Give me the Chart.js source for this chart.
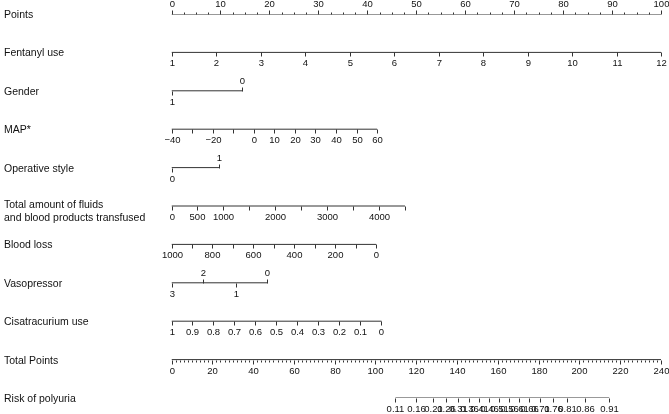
<!DOCTYPE html>
<html lang="en">
<head>
  <meta charset="UTF-8">
  <title>Nomogram - Risk of polyuria</title>
  <style>
    body { margin: 0; background: #fff; }
    #nomo { display: block; }
  </style>
</head>
<body>
  <canvas id="nomo" width="669" height="414"></canvas>
  <script src="https://cdn.jsdelivr.net/npm/chart.js"></script>
  <script>
    // Row titles (top to bottom)
    const rowTitles = ['Points', 'Fentanyl use', 'Gender', 'MAP*', 'Operative style',
      ['Total amount of fluids', 'and blood products transfused'],
      'Blood loss', 'Vasopressor', 'Cisatracurium use', 'Total Points', 'Risk of polyuria'];

    // Points scale
    const pointsTicks = [0, 10, 20, 30, 40, 50, 60, 70, 80, 90, 100];
    const pointsMinorStep = 2.5;

    // Fentanyl use: 1 -> 0 pts, 12 -> 100 pts
    const fentanylTicks = [1, 2, 3, 4, 5, 6, 7, 8, 9, 10, 11, 12];
    const fentanylScore = [0, 100];

    // Gender (categorical)
    const genderLevels = ['1', '0'];
    const genderScore = [0, 14.5];
    const genderSide = [1, -1];

    // MAP*
    const mapTicks = [-40, -30, -20, -10, 0, 10, 20, 30, 40, 50, 60];
    const mapLabels = ['\u221240', '', '\u221220', '', '0', '10', '20', '30', '40', '50', '60'];
    const mapScore = [0, 42];

    // Operative style (categorical)
    const opLevels = ['0', '1'];
    const opScore = [0, 9.7];
    const opSide = [1, -1];

    // Total amount of fluids and blood products transfused
    const fluidTicks = [0, 500, 1000, 1500, 2000, 2500, 3000, 3500, 4000, 4500];
    const fluidLabels = ['0', '500', '1000', '', '2000', '', '3000', '', '4000', ''];
    const fluidScore = [0, 47.7];

    // Blood loss
    const bloodTicks = [1000, 900, 800, 700, 600, 500, 400, 300, 200, 100, 0];
    const bloodLabels = ['1000', '', '800', '', '600', '', '400', '', '200', '', '0'];
    const bloodScore = [0, 41.8];

    // Vasopressor (categorical)
    const vasoLevels = ['3', '2', '1', '0'];
    const vasoScore = [0, 6.5, 13.2, 19.6];
    const vasoSide = [1, -1, 1, -1];

    // Cisatracurium use
    const cisaTicks = [1, 0.9, 0.8, 0.7, 0.6, 0.5, 0.4, 0.3, 0.2, 0.1, 0];
    const cisaLabels = ['1', '0.9', '0.8', '0.7', '0.6', '0.5', '0.4', '0.3', '0.2', '0.1', '0'];
    const cisaScore = [0, 42.9];

    // Total points scale
    const totalTicks = [0, 20, 40, 60, 80, 100, 120, 140, 160, 180, 200, 220, 240];
    const totalMinorStep = 2;

    // Risk of polyuria (logistic on total points)
    const riskTicks = [0.11, 0.16, 0.21, 0.26, 0.31, 0.36, 0.41, 0.46, 0.51, 0.56, 0.61, 0.66, 0.71, 0.76, 0.81, 0.86, 0.91];
    const riskIntercept = -6.705;
    const riskSlope = 0.04202;

    // helpers
    function lin(v, first, last, score) {
      return score[0] + (v - first) / (last - first) * (score[1] - score[0]);
    }
    function linearRow(ticks, labels, score, side) {
      const first = ticks[0], last = ticks[ticks.length - 1];
      return ticks.map((v, i) => ({ p: lin(v, first, last, score), label: labels[i], side: side, len: 4 }));
    }
    function catRow(levels, score, sides) {
      return levels.map((l, i) => ({ p: score[i], label: l, side: sides[i], len: 4 }));
    }
    function scaleRow(major, step, side) {
      const out = [];
      const max = major[major.length - 1];
      for (let v = 0; v <= max + 1e-9; v += step) {
        const isMajor = major.some(m => Math.abs(m - v) < 1e-9);
        if (!isMajor) out.push({ p: v, label: '', side: side, len: 2 });
      }
      major.forEach(m => out.push({ p: m, label: String(m), side: side, len: 4 }));
      return out;
    }

    const rows = [
      { axis: 'x', ticks: scaleRow(pointsTicks, pointsMinorStep, -1) },
      { axis: 'x', ticks: linearRow(fentanylTicks, fentanylTicks.map(String), fentanylScore, 1) },
      { axis: 'x', ticks: catRow(genderLevels, genderScore, genderSide) },
      { axis: 'x', ticks: linearRow(mapTicks, mapLabels, mapScore, 1) },
      { axis: 'x', ticks: catRow(opLevels, opScore, opSide) },
      { axis: 'x', ticks: linearRow(fluidTicks, fluidLabels, fluidScore, 1) },
      { axis: 'x', ticks: linearRow(bloodTicks, bloodLabels, bloodScore, 1) },
      { axis: 'x', ticks: catRow(vasoLevels, vasoScore, vasoSide) },
      { axis: 'x', ticks: linearRow(cisaTicks, cisaLabels, cisaScore, 1) },
      { axis: 'xt', ticks: scaleRow(totalTicks, totalMinorStep, 1) },
      { axis: 'xt', ticks: riskTicks.map(r => ({
          p: (Math.log(r / (1 - r)) - riskIntercept) / riskSlope,
          label: r.toFixed(2), side: 1, len: 4 })) }
    ];

    // one line dataset per row, spanning its tick range
    const datasets = rows.map((row, i) => {
      const ps = row.ticks.map(t => t.p);
      return {
        data: [{ x: Math.min(...ps), y: i }, { x: Math.max(...ps), y: i }],
        xAxisID: row.axis,
        yAxisID: 'y',
        borderColor: '#333',
        borderWidth: 1,
        pointRadius: 0,
        fill: false
      };
    });

    const nomogramPlugin = {
      id: 'nomogram',
      afterDatasetsDraw(chart) {
        const ctx = chart.ctx;
        const yScale = chart.scales.y;
        ctx.save();
        ctx.strokeStyle = '#333';
        ctx.lineWidth = 1;
        ctx.fillStyle = '#111';
        rows.forEach((row, i) => {
          const xs = chart.scales[row.axis];
          const y = Math.round(yScale.getPixelForValue(i)) + 0.5;
          ctx.font = '9.5px "Liberation Sans", Arial, sans-serif';
          ctx.textAlign = 'center';
          ctx.textBaseline = 'middle';
          row.ticks.forEach(t => {
            const x = Math.round(xs.getPixelForValue(t.p)) + 0.5;
            ctx.beginPath();
            ctx.moveTo(x, y);
            ctx.lineTo(x, y + t.side * t.len);
            ctx.stroke();
            if (t.label) ctx.fillText(t.label, x, y + t.side * 10.5);
          });
          // title
          ctx.font = '10.5px "Liberation Sans", Arial, sans-serif';
          ctx.textAlign = 'left';
          const title = rowTitles[i];
          if (Array.isArray(title)) {
            ctx.fillText(title[0], 4, y - 1);
            ctx.fillText(title[1], 4, y + 12);
          } else {
            ctx.fillText(title, 4, y + 1);
          }
        });
        ctx.restore();
      }
    };

    new Chart(document.getElementById('nomo').getContext('2d'), {
      type: 'line',
      data: { datasets: datasets },
      options: {
        responsive: false,
        animation: false,
        devicePixelRatio: 1,
        layout: { padding: { left: 171.5, right: 8, top: 14, bottom: 16 } },
        plugins: { legend: { display: false }, tooltip: { enabled: false } },
        scales: {
          x: { type: 'linear', min: 0, max: 100, display: false },
          xt: { type: 'linear', axis: 'x', min: 0, max: 240, display: false },
          y: { type: 'linear', min: 0, max: 10, reverse: true, display: false }
        }
      },
      plugins: [nomogramPlugin]
    });
  </script>
</body>
</html>
